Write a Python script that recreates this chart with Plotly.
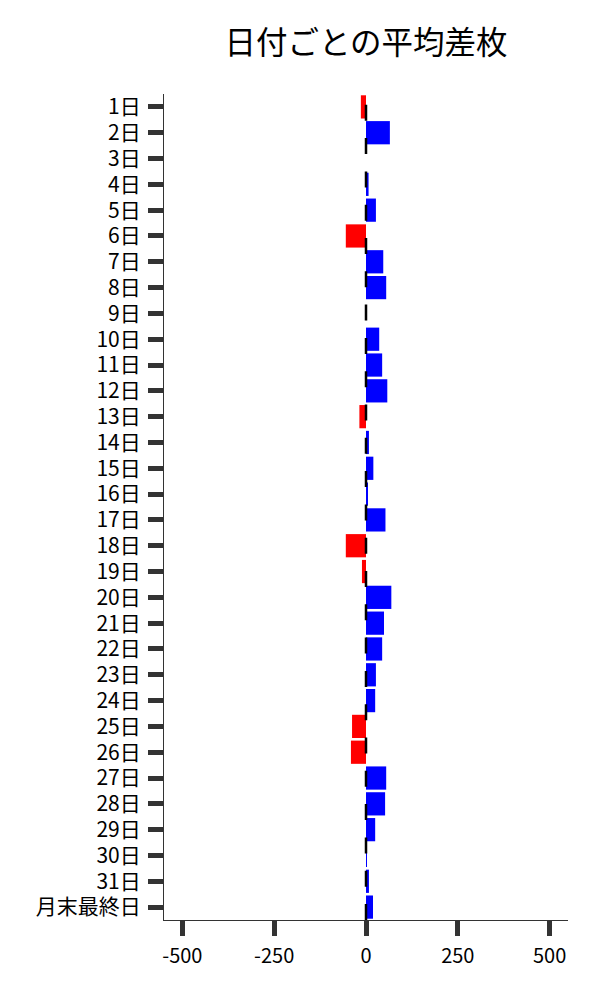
import plotly.graph_objects as go

days = [f"{i}日" for i in range(1, 32)] + ["月末最終日"]
avg_diff = [-14, 65, 0, 7, 27, -55, 47, 55, 0, 36,
            44, 58, -18, 8, 20, 3, 53, -55, -11, 69,
            49, 44, 27, 25, -38, -41, 55, 52, 25, 1,
            8, 19]
pos_color = "#0000ff"
neg_color = "#ff0000"
colors = [neg_color if v < 0 else pos_color for v in avg_diff]
x_ticks = [-500, -250, 0, 250, 500]

font_family = "Noto Sans CJK JP, Noto Sans, sans-serif"

fig = go.Figure()
fig.add_trace(go.Bar(
    x=avg_diff, y=days, orientation="h",
    marker=dict(color=colors, line=dict(width=0)),
    showlegend=False,
))
fig.add_vline(x=0, line=dict(color="black", width=2.5, dash="16px,17.3px"))

fig.update_layout(
    width=600, height=1000,
    margin=dict(l=156, r=40, t=86, b=88, autoexpand=False),
    plot_bgcolor="white", paper_bgcolor="white",
    font=dict(family=font_family, size=20, color="black"),
    title=dict(text="日付ごとの平均差枚", x=0.5, xref="paper", y=0.965, yanchor="middle",
               font=dict(family=font_family, size=31.5, color="black")),
    bargap=0.1,
    xaxis=dict(range=[-550, 550], tickvals=x_ticks, ticktext=[str(v) for v in x_ticks],
               showgrid=False, zeroline=False, showline=True, linecolor="#333", linewidth=1.2,
               ticks="outside", ticklen=15, tickwidth=5, tickcolor="#333",
               ticklabelstandoff=3, automargin=False),
    yaxis=dict(type="category", autorange="reversed", showgrid=False, zeroline=False,
               showline=True, linecolor="#333", linewidth=1.2,
               ticks="outside", ticklen=15, tickwidth=5, tickcolor="#333",
               tickfont=dict(size=21),
               ticklabelstandoff=3, automargin=False),
)

fig.write_html("out.html")
